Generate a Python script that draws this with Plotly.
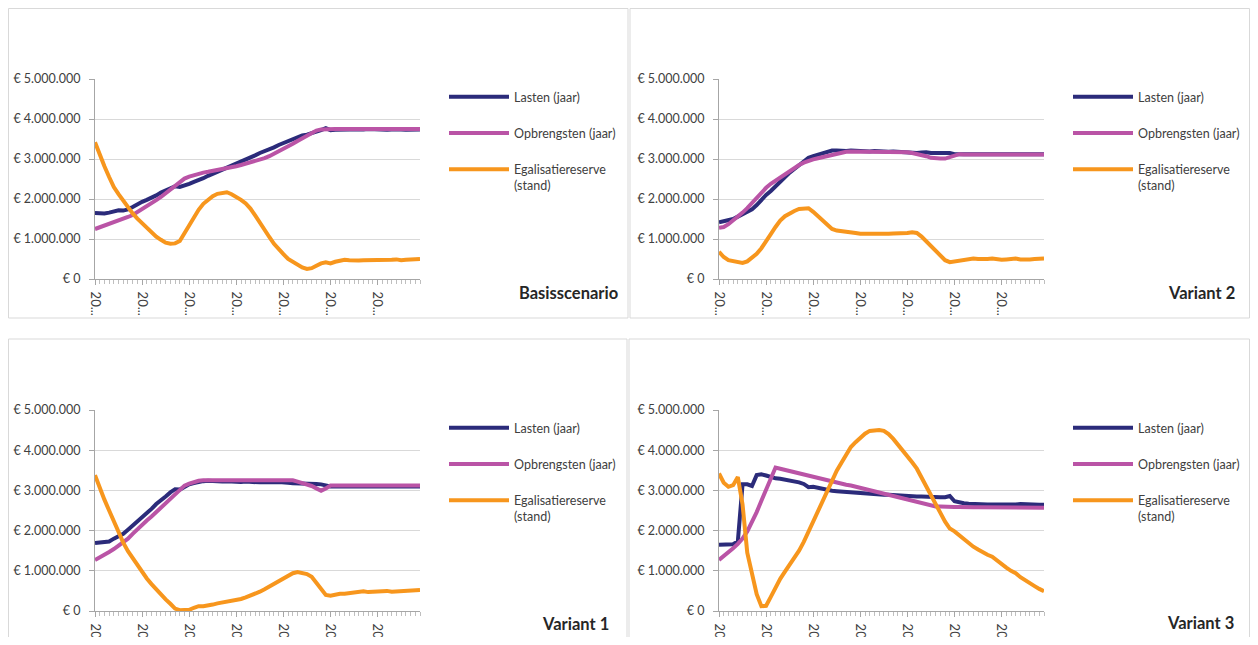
import plotly.graph_objects as go

# figure sits inside the page body (8px default margin): 1242 + 16 = 1258, 629 + 16 = 645
W, H = 1242, 629
OFF = 8  # page offset of the figure

years = list(range(2015, 2085))  # 70 categories
tick_years = years[::10]
tick_text = ["20..."] * len(tick_years)
y_ticks = [0, 1e6, 2e6, 3e6, 4e6, 5e6]
y_tick_text = ["€ 0", "€ 1.000.000", "€ 2.000.000", "€ 3.000.000", "€ 4.000.000", "€ 5.000.000"]

# values in millions of euro
basis_lasten = [1.65, 1.64, 1.64, 1.66, 1.70, 1.72, 1.71, 1.74, 1.80, 1.87,
                1.93, 1.98, 2.03, 2.09, 2.16, 2.21, 2.25, 2.32, 2.30, 2.33,
                2.38, 2.43, 2.47, 2.52, 2.58, 2.63, 2.68, 2.72, 2.77, 2.83,
                2.88, 2.93, 2.98, 3.03, 3.09, 3.15, 3.19, 3.24, 3.29, 3.35,
                3.40, 3.43, 3.48, 3.54, 3.59, 3.61, 3.64, 3.68, 3.72, 3.77,
                3.72, 3.73, 3.74, 3.75, 3.74, 3.74, 3.73, 3.74, 3.75, 3.74,
                3.73, 3.74, 3.73, 3.74, 3.75, 3.74, 3.73, 3.74, 3.74, 3.74]
basis_opbr = [1.25, 1.29, 1.33, 1.37, 1.41, 1.45, 1.50, 1.55, 1.60, 1.67,
              1.75, 1.82, 1.89, 1.97, 2.05, 2.14, 2.23, 2.33, 2.43, 2.51,
              2.56, 2.60, 2.63, 2.66, 2.68, 2.70, 2.72, 2.75, 2.77, 2.80,
              2.82, 2.85, 2.88, 2.92, 2.95, 2.98, 3.02, 3.07, 3.13, 3.18,
              3.24, 3.31, 3.38, 3.45, 3.52, 3.59, 3.66, 3.71, 3.74, 3.75,
              3.75, 3.75, 3.75, 3.75, 3.75, 3.75, 3.75, 3.75, 3.75, 3.75,
              3.75, 3.75, 3.75, 3.75, 3.75, 3.75, 3.75, 3.75, 3.75, 3.75]
basis_egal = [3.42, 3.10, 2.82, 2.55, 2.30, 2.12, 1.95, 1.79, 1.64, 1.51,
              1.39, 1.27, 1.17, 1.06, 0.98, 0.91, 0.88, 0.89, 0.95, 1.15,
              1.37, 1.55, 1.73, 1.88, 1.99, 2.07, 2.13, 2.16, 2.17, 2.12,
              2.06, 1.98, 1.89, 1.76, 1.59, 1.40, 1.22, 1.05, 0.88, 0.74,
              0.62, 0.50, 0.42, 0.35, 0.29, 0.25, 0.27, 0.33, 0.39, 0.42,
              0.39, 0.43, 0.46, 0.48, 0.47, 0.46, 0.46, 0.47, 0.47, 0.48,
              0.46, 0.46, 0.47, 0.48, 0.49, 0.47, 0.48, 0.49, 0.50, 0.50]

v2_lasten = [1.42, 1.44, 1.46, 1.50, 1.56, 1.62, 1.67, 1.74, 1.85, 1.98,
             2.10, 2.20, 2.32, 2.44, 2.56, 2.66, 2.75, 2.84, 2.92, 3.03,
             3.07, 3.10, 3.14, 3.18, 3.21, 3.21, 3.20, 3.20, 3.21, 3.20,
             3.20, 3.19, 3.19, 3.20, 3.19, 3.18, 3.18, 3.19, 3.18, 3.18,
             3.17, 3.16, 3.15, 3.16, 3.17, 3.15, 3.15, 3.15, 3.14, 3.15,
             3.12, 3.12, 3.13, 3.12, 3.12, 3.13, 3.12, 3.11, 3.12, 3.12,
             3.13, 3.12, 3.12, 3.11, 3.12, 3.12, 3.13, 3.12, 3.12, 3.12]
v2_opbr = [1.28, 1.30, 1.37, 1.46, 1.56, 1.66, 1.77, 1.90, 2.03, 2.16,
           2.28, 2.38, 2.46, 2.55, 2.64, 2.72, 2.79, 2.85, 2.91, 2.96,
           2.99, 3.02, 3.05, 3.08, 3.11, 3.14, 3.16, 3.18, 3.19, 3.19,
           3.19, 3.18, 3.18, 3.18, 3.18, 3.18, 3.18, 3.18, 3.18, 3.18,
           3.17, 3.15, 3.13, 3.10, 3.07, 3.03, 3.01, 3.01, 3.01, 3.05,
           3.10, 3.12, 3.11, 3.11, 3.11, 3.11, 3.11, 3.11, 3.11, 3.11,
           3.11, 3.11, 3.11, 3.11, 3.11, 3.11, 3.11, 3.11, 3.11, 3.11]
v2_egal = [0.68, 0.55, 0.47, 0.45, 0.43, 0.40, 0.44, 0.52, 0.63, 0.77,
           0.93, 1.12, 1.30, 1.46, 1.57, 1.64, 1.70, 1.75, 1.77, 1.77,
           1.68, 1.58, 1.48, 1.36, 1.25, 1.21, 1.20, 1.19, 1.18, 1.15,
           1.13, 1.13, 1.13, 1.12, 1.11, 1.12, 1.13, 1.14, 1.14, 1.13,
           1.15, 1.17, 1.15, 1.06, 0.94, 0.81, 0.68, 0.56, 0.47, 0.42,
           0.44, 0.46, 0.48, 0.49, 0.51, 0.50, 0.49, 0.50, 0.51, 0.49,
           0.48, 0.49, 0.50, 0.51, 0.49, 0.48, 0.49, 0.50, 0.51, 0.51]

v1_lasten = [1.69, 1.70, 1.71, 1.73, 1.80, 1.86, 1.92, 2.02, 2.12, 2.24,
             2.33, 2.43, 2.54, 2.66, 2.77, 2.85, 2.95, 3.03, 3.02, 3.10,
             3.15, 3.18, 3.21, 3.23, 3.24, 3.23, 3.23, 3.22, 3.23, 3.22,
             3.22, 3.21, 3.22, 3.21, 3.21, 3.20, 3.21, 3.20, 3.20, 3.21,
             3.19, 3.19, 3.18, 3.18, 3.17, 3.17, 3.16, 3.16, 3.15, 3.12,
             3.10, 3.10, 3.11, 3.10, 3.10, 3.11, 3.10, 3.10, 3.11, 3.10,
             3.10, 3.11, 3.10, 3.10, 3.11, 3.10, 3.10, 3.11, 3.10, 3.10]
v1_opbr = [1.27, 1.33, 1.40, 1.47, 1.54, 1.62, 1.70, 1.80, 1.92, 2.04,
           2.15, 2.25, 2.35, 2.46, 2.56, 2.66, 2.77, 2.88, 3.00, 3.12,
           3.17, 3.21, 3.24, 3.25, 3.25, 3.25, 3.25, 3.25, 3.25, 3.25,
           3.25, 3.25, 3.25, 3.25, 3.25, 3.25, 3.25, 3.25, 3.25, 3.25,
           3.25, 3.25, 3.25, 3.22, 3.19, 3.16, 3.11, 3.05, 2.99, 3.05,
           3.12, 3.12, 3.12, 3.12, 3.12, 3.12, 3.12, 3.12, 3.12, 3.12,
           3.12, 3.12, 3.12, 3.12, 3.12, 3.12, 3.12, 3.12, 3.12, 3.12]
v1_egal = [3.38, 3.05, 2.77, 2.50, 2.23, 1.96, 1.70, 1.49, 1.31, 1.13,
           0.96, 0.81, 0.67, 0.54, 0.40, 0.29, 0.18, 0.06, 0.02, 0.02,
           0.03, 0.08, 0.12, 0.12, 0.13, 0.16, 0.19, 0.21, 0.22, 0.24,
           0.26, 0.30, 0.34, 0.38, 0.43, 0.48, 0.54, 0.61, 0.67, 0.73,
           0.80, 0.88, 0.94, 0.97, 0.95, 0.92, 0.85, 0.70, 0.55, 0.40,
           0.38, 0.41, 0.43, 0.43, 0.45, 0.46, 0.48, 0.49, 0.47, 0.48,
           0.48, 0.49, 0.50, 0.48, 0.49, 0.50, 0.50, 0.51, 0.51, 0.52]

v3_lasten = [1.65, 1.65, 1.65, 1.66, 1.73, 3.15, 3.15, 3.11, 3.38, 3.40,
             3.37, 3.33, 3.30, 3.29, 3.27, 3.26, 3.22, 3.20, 3.16, 3.08,
             3.09, 3.06, 3.03, 3.01, 2.99, 2.98, 2.97, 2.96, 2.94, 2.94,
             2.93, 2.92, 2.92, 2.91, 2.90, 2.89, 2.89, 2.88, 2.87, 2.88,
             2.86, 2.85, 2.85, 2.85, 2.84, 2.83, 2.82, 2.83, 2.83, 2.86,
             2.73, 2.70, 2.68, 2.67, 2.66, 2.65, 2.65, 2.65, 2.65, 2.66,
             2.65, 2.65, 2.64, 2.65, 2.66, 2.65, 2.65, 2.65, 2.64, 2.64]
v3_opbr = [1.27, 1.36, 1.46, 1.56, 1.67, 1.80, 1.98, 2.20, 2.46, 2.74,
           3.02, 3.30, 3.57, 3.54, 3.51, 3.48, 3.46, 3.43, 3.40, 3.37,
           3.34, 3.31, 3.29, 3.26, 3.23, 3.20, 3.17, 3.14, 3.12, 3.09,
           3.06, 3.03, 3.00, 2.97, 2.95, 2.92, 2.89, 2.86, 2.83, 2.80,
           2.78, 2.75, 2.72, 2.69, 2.66, 2.63, 2.60, 2.60, 2.59, 2.59,
           2.59, 2.59, 2.58, 2.58, 2.58, 2.58, 2.58, 2.58, 2.58, 2.58,
           2.57, 2.57, 2.57, 2.57, 2.57, 2.57, 2.57, 2.57, 2.57, 2.57]
v3_egal = [3.42, 3.19, 3.09, 3.13, 3.33, 2.65, 1.45, 0.95, 0.42, 0.12,
           0.13, 0.35, 0.58, 0.80, 0.98, 1.15, 1.31, 1.50, 1.72, 1.98,
           2.23, 2.48, 2.73, 3.00, 3.27, 3.49, 3.69, 3.90, 4.08, 4.20,
           4.31, 4.41, 4.48, 4.50, 4.50, 4.48, 4.40, 4.28, 4.14, 4.00,
           3.85, 3.70, 3.54, 3.33, 3.10, 2.88, 2.65, 2.44, 2.22, 2.05,
           1.98, 1.88, 1.78, 1.70, 1.60, 1.53, 1.46, 1.40, 1.35, 1.25,
           1.16, 1.08, 1.00, 0.94, 0.84, 0.76, 0.70, 0.62, 0.55, 0.49]

series_names = ["Lasten (jaar)", "Opbrengsten (jaar)", "Egalisatiereserve<br>(stand)"]
colors = ["#2B2B7A", "#BA54A6", "#F7961D"]
panel_titles = ["Basisscenario", "Variant 2", "Variant 1", "Variant 3"]
panel_data = [
    (basis_lasten, basis_opbr, basis_egal),
    (v2_lasten, v2_opbr, v2_egal),
    (v1_lasten, v1_opbr, v1_egal),
    (v3_lasten, v3_opbr, v3_egal),
]

FONT = "Lato"
TXT = "#404040"

# panel geometry in page pixels (box bottom None = runs off the bottom edge)
panels = [
    dict(px0=95, px1=420, py0=79, py1=279, box=(8.5, 8.5, 628, 318), leg=(444, 82), title=(620, 293)),
    dict(px0=719, px1=1044, py0=79, py1=279, box=(630, 8.5, 1249.5, 318), leg=(1068, 82), title=(1237, 293)),
    dict(px0=95, px1=420, py0=410, py1=611, box=(8.5, 339, 627, None), leg=(444, 413), title=(611, 624)),
    dict(px0=719, px1=1044, py0=410, py1=611, box=(629, 339, 1249.5, None), leg=(1068, 413), title=(1236, 623)),
]


def fx(px):
    return (px - OFF) / W


def fy(py):
    return 1 - (py - OFF) / H


fig = go.Figure()
layout = dict(
    template="none",
    width=W, height=H, autosize=False, margin=dict(l=0, r=0, t=0, b=0, pad=0),
    paper_bgcolor="white", plot_bgcolor="white",
    font=dict(family=FONT, size=12, color=TXT),
    shapes=[], annotations=[],
)

for k, (p, data) in enumerate(zip(panels, panel_data)):
    n = "" if k == 0 else str(k + 1)
    legname = "legend" + n
    for j, (vals, name, col) in enumerate(zip(data, series_names, colors)):
        fig.add_trace(go.Scatter(
            x=years, y=[v * 1e6 for v in vals], name=name, mode="lines",
            line=dict(color=col, width=4), xaxis="x" + n, yaxis="y" + n,
            legend=legname, legendgroup=f"g{k}_{j}",
            hoverinfo="skip",
        ))
    layout["xaxis" + n] = dict(
        domain=[fx(p["px0"]), fx(p["px1"])], anchor="y" + n,
        range=[years[0], years[-1]], automargin=False,
        tickmode="array", tickvals=tick_years, ticktext=tick_text,
        tickangle=90, ticks="outside", ticklen=5, tickcolor="#a6a6a6",
        minor=dict(tick0=years[0], dtick=1, ticks="outside", ticklen=4,
                   tickcolor="#bfbfbf", showgrid=False),
        showgrid=False, zeroline=False, showline=True, linecolor="#a6a6a6",
        linewidth=1, tickfont=dict(family=FONT, size=13, color=TXT),
        ticklabelstandoff=4, fixedrange=True,
    )
    layout["yaxis" + n] = dict(
        domain=[fy(p["py1"]), fy(p["py0"])], anchor="x" + n,
        range=[0, 5e6], tickmode="array", automargin=False,
        tickvals=y_ticks, ticktext=y_tick_text,
        ticks="outside", ticklen=5, tickcolor="#a6a6a6",
        showgrid=True, gridcolor="#d9d9d9", gridwidth=1,
        zeroline=False, showline=True, linecolor="#a6a6a6", linewidth=1,
        tickfont=dict(family=FONT, size=12.5, color=TXT),
        ticklabelstandoff=6, fixedrange=True,
    )
    layout[legname] = dict(
        x=fx(p["leg"][0]), y=fy(p["leg"][1]), xanchor="left", yanchor="top",
        bgcolor="rgba(0,0,0,0)", borderwidth=0,
        font=dict(family=FONT, size=12.5, color=TXT),
        itemwidth=60, traceorder="grouped", tracegroupgap=17, valign="top",
        itemclick=False, itemdoubleclick=False,
    )
    bx0, by0, bx1, by1 = p["box"]
    X0, X1, YT = fx(bx0), fx(bx1), fy(by0)
    if by1 is None:
        path = f"M {X0},0 L {X0},{YT} L {X1},{YT} L {X1},0"
    else:
        YB = fy(by1)
        path = f"M {X0},{YB} L {X0},{YT} L {X1},{YT} L {X1},{YB} Z"
    layout["shapes"].append(dict(
        type="path", xref="paper", yref="paper", path=path,
        line=dict(color="#d9d9d9", width=1), layer="below",
    ))
    layout["annotations"].append(dict(
        text="<b>" + panel_titles[k] + "</b>", xref="paper", yref="paper",
        x=fx(p["title"][0]), y=fy(p["title"][1]), xanchor="right", yanchor="middle",
        showarrow=False, font=dict(family=FONT, size=16.5, color="#262626"),
    ))

fig.update_layout(**layout)
fig.write_html(
    "out.html",
    config={"responsive": False, "displayModeBar": False},
)
